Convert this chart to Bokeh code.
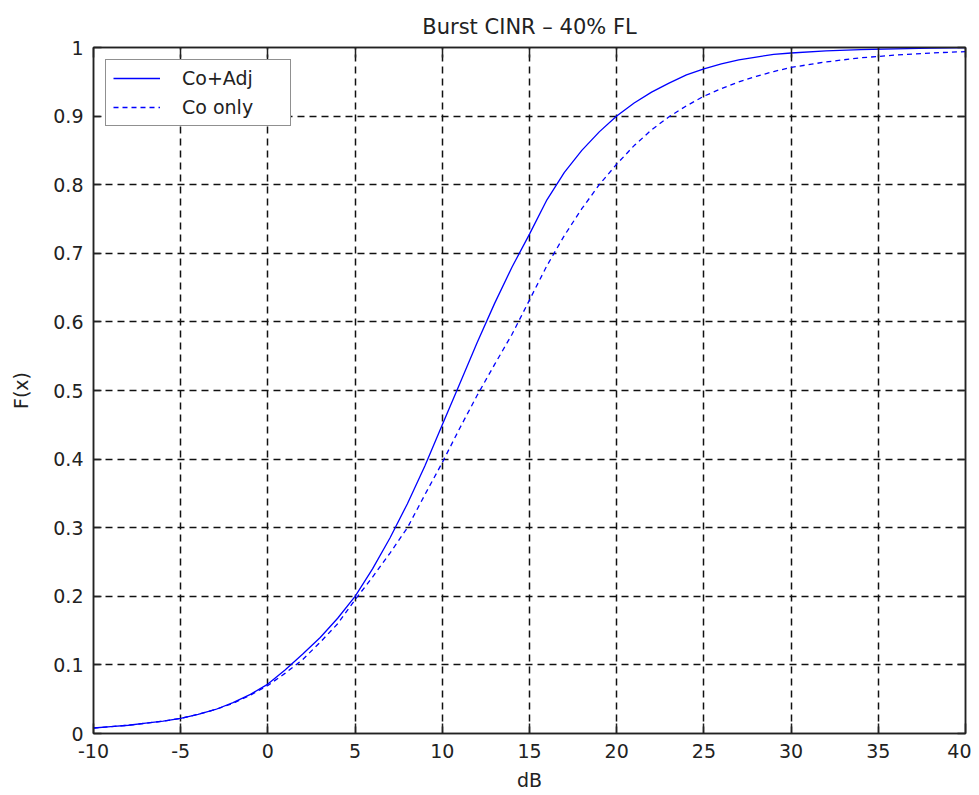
from bokeh.plotting import figure
from bokeh.models import FixedTicker, LinearAxis, Legend, LegendItem, Range1d
from bokeh.embed import file_html
from bokeh.resources import INLINE

# ---- data ----
x_db = [-10, -9, -8, -7, -6, -5, -4, -3, -2, -1, 0, 1, 2, 3, 4, 5, 6, 7, 8, 9,
        10, 11, 12, 13, 14, 15, 16, 17, 18, 19, 20, 21, 22, 23, 24, 25, 26,
        27, 28, 29, 30, 32, 34, 36, 38, 40]
co_adj = [0.008, 0.010, 0.012, 0.015, 0.018, 0.022, 0.028, 0.035, 0.045,
          0.057, 0.072, 0.093, 0.116, 0.140, 0.168, 0.200, 0.240, 0.285,
          0.335, 0.390, 0.450, 0.510, 0.570, 0.627, 0.680, 0.728, 0.778,
          0.818, 0.850, 0.877, 0.900, 0.919, 0.935, 0.948, 0.960, 0.969,
          0.976, 0.982, 0.986, 0.990, 0.992, 0.995, 0.997, 0.998, 0.999, 1.000]
co_only = [0.008, 0.010, 0.012, 0.015, 0.018, 0.022, 0.028, 0.035, 0.044,
           0.056, 0.070, 0.088, 0.108, 0.133, 0.160, 0.195, 0.228, 0.263,
           0.300, 0.348, 0.395, 0.445, 0.493, 0.538, 0.582, 0.632, 0.682,
           0.726, 0.765, 0.800, 0.830, 0.857, 0.880, 0.899, 0.915, 0.929,
           0.940, 0.950, 0.958, 0.965, 0.971, 0.979, 0.985, 0.989, 0.992, 0.994]

x_ticks = [-10, -5, 0, 5, 10, 15, 20, 25, 30, 35, 40]
x_tick_labels = ["-10", "-5", "0", "5", "10", "15", "20", "25", "30", "35", "40"]
y_ticks = [0, 0.1, 0.2, 0.3, 0.4, 0.5, 0.6, 0.7, 0.8, 0.9, 1]
y_tick_labels = ["0", "0.1", "0.2", "0.3", "0.4", "0.5", "0.6", "0.7", "0.8", "0.9", "1"]

title_text = "Burst CINR \u2013 40% FL"
x_label = "dB"
y_label = "F(x)"
series_names = ["Co+Adj", "Co only"]

FONT = "DejaVu Sans"
FS = "19px"
INK = "#222222"

p = figure(width=971, height=793, output_backend="svg", toolbar_location=None,
           x_range=Range1d(-10, 40), y_range=Range1d(0, 1),
           min_border_left=93, min_border_right=6, min_border_top=47,
           min_border_bottom=53, title=title_text)

p.title.align = "center"
p.title.text_font = FONT
p.title.text_font_size = "21px"
p.title.text_font_style = "normal"
p.title.text_color = INK
p.title.standoff = 18

p.background_fill_color = "white"
p.border_fill_color = "white"
p.outline_line_color = INK
p.outline_line_width = 1.5

for ax in (p.xaxis[0], p.yaxis[0]):
    ax.axis_line_color = INK
    ax.axis_line_width = 1.5
    ax.major_tick_line_color = INK
    ax.major_tick_line_width = 1.5
    ax.major_tick_out = 0
    ax.minor_tick_line_color = None
    ax.major_label_text_font = FONT
    ax.major_label_text_font_size = FS
    ax.major_label_text_color = INK
    ax.axis_label_text_font = FONT
    ax.axis_label_text_font_size = FS
    ax.axis_label_text_font_style = "normal"
    ax.axis_label_text_color = INK

p.xaxis[0].ticker = FixedTicker(ticks=x_ticks)
p.xaxis[0].major_label_overrides = dict(zip(x_ticks, x_tick_labels))
p.xaxis[0].major_tick_in = 10
p.xaxis[0].axis_label = x_label
p.xaxis[0].axis_label_standoff = 8
p.xaxis[0].major_label_standoff = 10

p.yaxis[0].ticker = FixedTicker(ticks=y_ticks)
p.yaxis[0].major_label_overrides = dict(zip(y_ticks, y_tick_labels))
p.yaxis[0].major_tick_in = 8
p.yaxis[0].axis_label = y_label
p.yaxis[0].axis_label_standoff = 18
p.yaxis[0].major_label_standoff = 10

top_ax = LinearAxis(ticker=FixedTicker(ticks=x_ticks), major_label_text_color=None,
                    major_tick_in=10, major_tick_out=0, minor_tick_line_color=None,
                    axis_line_color=INK, axis_line_width=1.5,
                    major_tick_line_color=INK, major_tick_line_width=1.5,
                    major_label_text_font_size="0px", major_label_standoff=0)
right_ax = LinearAxis(ticker=FixedTicker(ticks=y_ticks), major_label_text_color=None,
                      major_tick_in=8, major_tick_out=0, minor_tick_line_color=None,
                      axis_line_color=INK, axis_line_width=1.5,
                      major_tick_line_color=INK, major_tick_line_width=1.5,
                      major_label_text_font_size="0px", major_label_standoff=0)
p.add_layout(top_ax, "above")
p.add_layout(right_ax, "right")

p.xgrid.ticker = FixedTicker(ticks=x_ticks)
p.ygrid.ticker = FixedTicker(ticks=y_ticks)
for g in (p.xgrid[0], p.ygrid[0]):
    g.grid_line_color = "#111111"
    g.grid_line_width = 1.5
    g.grid_line_dash = "7 5"
    g.grid_line_alpha = 1.0

r1 = p.line(x_db, co_adj, line_color="#0000ff", line_width=1.3)
r2 = p.line(x_db, co_only, line_color="#0000ff", line_width=1.3, line_dash="5 4")

legend = Legend(items=[LegendItem(label=series_names[0], renderers=[r1]),
                       LegendItem(label=series_names[1], renderers=[r2])],
                location="top_left")
legend.margin = 12
legend.padding = 7
legend.spacing = 7
legend.glyph_width = 47
legend.glyph_height = 22
legend.label_height = 22
legend.label_width = 101
legend.label_standoff = 22
legend.label_text_font = FONT
legend.label_text_font_size = FS
legend.label_text_color = INK
legend.border_line_color = INK
legend.border_line_width = 1.5
legend.background_fill_color = "white"
legend.background_fill_alpha = 1.0
p.add_layout(legend, "center")

open("out.html", "w").write(file_html(p, INLINE))
